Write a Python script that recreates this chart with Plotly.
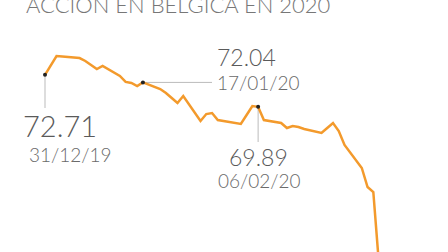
import pandas as pd
import plotly.graph_objects as go

# ---- data ----
dates = ["2019-12-31", "2020-01-02", "2020-01-03", "2020-01-06", "2020-01-07", "2020-01-08",
         "2020-01-09", "2020-01-10", "2020-01-13", "2020-01-14", "2020-01-15", "2020-01-16",
         "2020-01-17", "2020-01-20", "2020-01-21", "2020-01-22", "2020-01-23", "2020-01-24",
         "2020-01-27", "2020-01-28", "2020-01-29", "2020-01-30", "2020-01-31", "2020-02-03",
         "2020-02-04", "2020-02-05", "2020-02-06", "2020-02-07", "2020-02-10", "2020-02-11",
         "2020-02-12", "2020-02-13", "2020-02-14", "2020-02-17", "2020-02-18", "2020-02-19",
         "2020-02-20", "2020-02-21", "2020-02-24", "2020-02-25", "2020-02-26", "2020-02-27"]
prices = [72.71, 74.37, 74.33, 74.19, 73.93, 73.58,
          73.22, 73.49, 72.61, 72.08, 71.99, 71.72,
          72.04, 71.46, 71.11, 70.66, 70.22, 70.84,
          68.64, 69.25, 69.34, 68.72, 68.64, 68.37,
          69.16, 69.96, 69.89, 68.72, 68.46, 68.02,
          68.19, 68.11, 67.93, 67.58, 68.02, 68.46,
          67.75, 66.52, 64.49, 62.81, 62.37, 55.86]

title_text = "ACCIÓN EN BÉLGICA EN 2020"
marked_dates = ["2019-12-31", "2020-01-17", "2020-02-06"]
marked_values = [72.71, 72.04, 69.89]
marked_labels = ["31/12/19", "17/01/20", "06/02/20"]

# ---- layout geometry ----
W, H = 448, 252
d0 = pd.Timestamp("2019-12-31")
px_per_day = 5.76
x_start = d0 - pd.Timedelta(days=45 / px_per_day)
x_end = x_start + pd.Timedelta(days=W / px_per_day)
y_top, y_bot = 79.313, 57.074

def yval(py):
    return y_top - (y_top - y_bot) * py / H

def xval(px):
    return x_start + pd.Timedelta(days=px / px_per_day)

line_col = "#F39A2C"
num_col = "#5a5a5a"
date_col = "#6a6a6a"
lead_col = "#BBBBBB"
font_fam = "Lato, 'Open Sans', sans-serif"

fig = go.Figure()
fig.add_trace(go.Scatter(x=pd.to_datetime(dates), y=prices, mode="lines",
                         line=dict(color=line_col, width=2.5), hoverinfo="skip"))
fig.add_trace(go.Scatter(x=pd.to_datetime(marked_dates), y=marked_values, mode="markers",
                         marker=dict(color="#222222", size=4), hoverinfo="skip"))

md = pd.to_datetime(marked_dates)
# leader lines
fig.add_shape(type="line", x0=md[0], x1=md[0], y0=marked_values[0], y1=yval(108),
              line=dict(color=lead_col, width=1), layer="below")
fig.add_shape(type="line", x0=md[1], x1=xval(212), y0=marked_values[1], y1=marked_values[1],
              line=dict(color=lead_col, width=1), layer="below")
fig.add_shape(type="line", x0=md[2], x1=md[2], y0=marked_values[2], y1=yval(142),
              line=dict(color=lead_col, width=1), layer="below")

num_sizes = [29, 23, 23]
num_shift = [(14.5, -50.5), (103.5, 25), (0.5, -50)]
date_shift = [(25.5, -80), (115.5, -0.5), (1, -74)]
for i in range(3):
    fig.add_annotation(x=md[i], y=marked_values[i], text=f"{marked_values[i]:.2f}",
                       showarrow=False, xanchor="center", yanchor="middle",
                       xshift=num_shift[i][0], yshift=num_shift[i][1],
                       font=dict(family=font_fam, size=num_sizes[i], color=num_col, weight=300))
    fig.add_annotation(x=md[i], y=marked_values[i], text=marked_labels[i],
                       showarrow=False, xanchor="center", yanchor="middle",
                       xshift=date_shift[i][0], yshift=date_shift[i][1],
                       font=dict(family=font_fam, size=19, color=date_col, weight=300))

fig.add_annotation(xref="paper", yref="paper", x=177.5 / W, y=1, text=title_text,
                   showarrow=False, xanchor="center", yanchor="middle", yshift=-4,
                   font=dict(family=font_fam, size=22, color="#777777", weight=300))

fig.update_layout(width=W, height=H, autosize=False,
                  margin=dict(l=0, r=0, t=0, b=0),
                  paper_bgcolor="white", plot_bgcolor="white", showlegend=False,
                  xaxis=dict(range=[x_start, x_end], visible=False, fixedrange=True),
                  yaxis=dict(range=[y_bot, y_top], visible=False, fixedrange=True))

fig.write_html("out.html", config={"displayModeBar": False})
